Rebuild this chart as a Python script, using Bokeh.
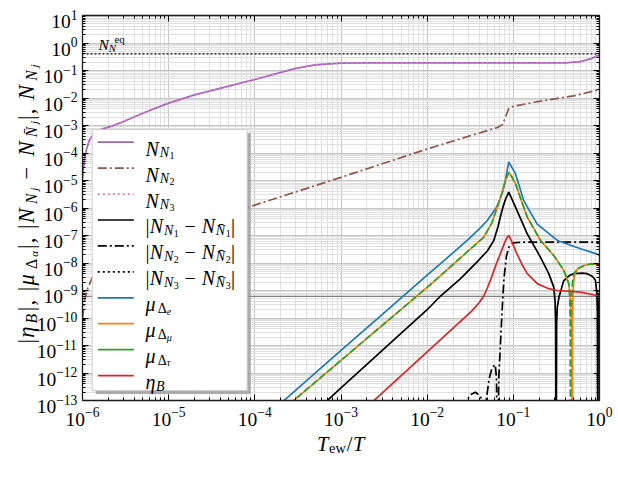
import math
from bokeh.plotting import figure
from bokeh.models import LogAxis, FixedTicker, Label, Range1d
from bokeh.embed import file_html
from bokeh.resources import INLINE

# ---------------- data ----------------
x_exponents = [-6, -5, -4, -3, -2, -1, 0]
y_exponents = list(range(-13, 2))

neq_level = 0.4          # N_N^eq dotted line
eta_obs = 6.1e-10        # observed baryon asymmetry (grey line)

nn1_x = [1e-6, 1.02e-6, 1.06e-6, 1.12e-6, 1.22e-6, 1.4e-6, 1.7e-6, 2.2e-6, 3e-6, 5e-6,
         1e-5, 2e-5, 5e-5, 1e-4, 2e-4, 3e-4, 5e-4, 1e-3, 2e-3, 0.4, 0.6, 0.8, 1.0]
nn1_y = [1.2e-5, 2.5e-5, 6e-5, 1.5e-4, 3.2e-4, 5.5e-4, 7.5e-4, 9.5e-4, 1.4e-3, 2.8e-3,
         6.5e-3, 0.013, 0.027, 0.047, 0.085, 0.12, 0.16, 0.185, 0.19, 0.19, 0.21, 0.27, 0.37]

nn2_x = [1e-6, 1.05e-6, 1.15e-6, 1.3e-6, 1.6e-6, 2.2e-6, 3.5e-6, 6e-6, 1e-5, 2e-5, 4e-5,
         8.2e-5, 1e-3, 1e-2, 0.0655, 0.075, 0.081, 0.088, 0.1, 0.2, 0.5, 1.0]
nn2_y = [1e-10, 4e-10, 1.2e-9, 3e-9, 8e-9, 2e-8, 4.5e-8, 8e-8, 1.3e-7, 2.6e-7, 5.2e-7,
         1.05e-6, 1.3e-5, 1.4e-4, 8.5e-4, 1.1e-3, 2e-3, 4e-3, 5e-3, 7.5e-3, 1.2e-2, 2e-2]

nn3_x = list(nn1_x)
nn3_y = list(nn1_y)

d1_x = [6.3e-4, 1e-3, 1e-2, 1.43e-2, 2.44e-2, 3.8e-2, 5.01e-2, 5.93e-2, 6.61e-2, 7.1e-2,
        7.59e-2, 8.13e-2, 8.85e-2, 0.106, 0.145, 0.207, 0.258, 0.295, 0.305, 0.31, 0.314,
        0.318, 0.324, 0.339, 0.385, 0.447, 0.504, 0.631, 0.719, 0.832, 0.898, 0.933, 0.946,
        0.955, 0.964, 0.982, 1.0]
d1_y = [7.6e-14, 2.9e-13, 2.0e-10, 6.3e-10, 2.7e-9, 1.1e-8, 2.8e-8, 6.6e-8, 2.0e-7, 5.0e-7,
        1.1e-6, 2.1e-6, 3.8e-6, 1.07e-6, 1.15e-7, 1.6e-8, 4.1e-9, 1.3e-9, 4e-10, 6.3e-11, 1e-16,
        6.3e-11, 2.5e-10, 5.8e-10, 2.3e-9, 3.5e-9, 4.1e-9, 4.3e-9, 4.1e-9, 3.2e-9, 2.3e-9, 7.9e-10,
        1.6e-10, 1e-16, 1e-10, 4e-10, 6.3e-10]

d2_x = [2.51e-2, 3.16e-2, 3.63e-2, 4.17e-2, 4.47e-2, 4.57e-2, 4.68e-2, 5.25e-2, 5.69e-2,
        6.17e-2, 6.38e-2, 6.5e-2, 6.78e-2, 7.41e-2, 7.76e-2, 8.32e-2, 8.85e-2, 0.1, 0.126, 1.0]
d2_y = [5e-14, 1.6e-13, 2e-13, 1.4e-13, 5e-14, 1e-16, 5e-14, 6.3e-13, 1.6e-12,
        2e-12, 6.3e-13, 1e-16, 7e-13, 1.86e-10, 2.5e-9, 1.8e-8, 3.8e-8, 5.4e-8, 5.75e-8, 5.75e-8]

mue_x = [2.0e-4, 1e-3, 3.16e-3, 1e-2, 1.43e-2, 2.91e-2, 3.98e-2, 4.98e-2, 6.31e-2, 6.78e-2,
         7.41e-2, 8.11e-2, 8.51e-2, 8.85e-2, 0.106, 0.132, 0.189, 0.324, 0.603, 0.94, 1.0]
mue_y = [7.9e-14, 6.6e-12, 1.55e-10, 3.6e-9, 9.5e-9, 6.6e-8, 1.66e-7, 3.5e-7, 1.0e-6, 1.6e-6,
         3.5e-6, 1.1e-5, 2.5e-5, 4.7e-5, 1.74e-5, 1.86e-6, 2.6e-7, 6.6e-8, 3.3e-8, 2.1e-8, 1.86e-8]

mutau_x = [2.5e-4, 1e-3, 1e-2, 1.43e-2, 4.54e-2, 5.62e-2, 6.5e-2, 7.41e-2, 8.13e-2, 8.85e-2,
           9.55e-2, 0.106, 0.126, 0.145, 0.207, 0.295, 0.385, 0.441, 0.452, 0.457, 0.460,
           0.465, 0.472, 0.484, 0.504, 0.562, 0.661, 0.794, 0.891, 1.0]
mutau_y = [7.2e-14, 2.9e-12, 1.3e-9, 3.5e-9, 8.7e-8, 2.8e-7, 1.07e-6, 3.5e-6, 1e-5, 2.0e-5,
           1.4e-5, 7.6e-6, 1.6e-6, 4.7e-7, 6.6e-8, 1.86e-8, 5.4e-9, 1.74e-9, 5e-10, 6.3e-11, 1e-16,
           6.3e-11, 6.3e-10, 1.8e-9, 4.1e-9, 6.3e-9, 8.1e-9, 9.3e-9, 9.1e-9, 8.1e-9]

mumu_x = [2.5e-4, 1e-3, 1e-2, 1.43e-2, 4.54e-2, 5.62e-2, 6.5e-2, 7.41e-2, 8.13e-2, 8.85e-2,
          9.55e-2, 0.106, 0.126, 0.145, 0.207, 0.295, 0.385, 0.441, 0.457, 0.47, 0.479, 0.481,
          0.485, 0.493, 0.504, 0.525, 0.562, 0.661, 0.794, 0.891, 1.0]
mumu_y = [7.2e-14, 2.9e-12, 1.3e-9, 3.5e-9, 8.7e-8, 2.8e-7, 1.07e-6, 3.5e-6, 1e-5, 2.0e-5,
          1.4e-5, 7.6e-6, 1.6e-6, 4.7e-7, 6.6e-8, 1.86e-8, 5.4e-9, 1.74e-9, 6.3e-10, 1e-10, 1e-11, 1e-16,
          6.3e-11, 7.9e-10, 2.5e-9, 4.5e-9, 6.3e-9, 8.1e-9, 9.3e-9, 9.1e-9, 8.1e-9]

etab_x = [2.24e-3, 1e-2, 3.33e-2, 3.98e-2, 4.54e-2, 5.01e-2, 5.62e-2, 6.31e-2, 7.08e-2, 7.94e-2,
          8.51e-2, 8.85e-2, 9.55e-2, 0.106, 0.126, 0.145, 0.191, 0.251, 0.324, 0.603, 0.933, 1.0]
etab_y = [8.1e-14, 5.9e-12, 1.86e-10, 3.5e-10, 6.3e-10, 1.26e-9, 3.2e-9, 8.9e-9, 2.2e-8, 5.6e-8,
          8.7e-8, 1e-7, 6.3e-8, 2.8e-8, 8.9e-9, 4.1e-9, 1.74e-9, 1.2e-9, 1e-9, 8.7e-10, 6.6e-10, 6.3e-10]

# ---------------- styles ----------------
PURPLE, BROWN, PINK = "#9467bd", "#8c564b", "#e377c2"
BLUE, ORANGE, GREEN, RED = "#1f77b4", "#ff7f0e", "#2ca02c", "#d62728"
LW = 1.7
DASHDOT = "9 3 2 3"
DOTTED = "2 3"
FONT = "Liberation Serif"
S = 19.5

# plot-area placement in the 618x480 canvas (pixels)
W_CANVAS, H_CANVAS = 618, 480
FX0, FX1, FY0, FY1 = 82, 599, 15, 400
XMIN, XMAX, YMIN, YMAX = 1e-6, 1.0, 1e-13, 1e1


def X(px):
    return 10 ** (math.log10(XMIN) + (math.log10(XMAX) - math.log10(XMIN)) * (px - FX0) / (FX1 - FX0))


def Y(py):
    return 10 ** (math.log10(YMAX) - (math.log10(YMAX) - math.log10(YMIN)) * (py - FY0) / (FY1 - FY0))


# the Bokeh frame spans the whole canvas; the data box sits inside it
p = figure(width=W_CANVAS, height=H_CANVAS, x_axis_type="log", y_axis_type="log",
           x_range=Range1d(X(0), X(W_CANVAS)), y_range=Range1d(Y(H_CANVAS), Y(0)),
           output_backend="svg", toolbar_location=None,
           min_border_left=0, min_border_right=0, min_border_top=0, min_border_bottom=0)
p.background_fill_color = "white"
p.border_fill_color = "white"
p.outline_line_color = None

xticks = [10.0 ** k for k in x_exponents]
xminor = [m * 10.0 ** k for k in x_exponents[:-1] for m in range(2, 10)]
yticks = [10.0 ** k for k in y_exponents]
yminor = [m * 10.0 ** k for k in y_exponents[:-1] for m in range(2, 10)]
xtk = FixedTicker(ticks=xticks, minor_ticks=xminor)
ytk = FixedTicker(ticks=yticks, minor_ticks=yminor)

p.xaxis.ticker = xtk
p.yaxis.ticker = ytk
p.xaxis.fixed_location = YMIN
p.yaxis.fixed_location = XMIN
p.add_layout(LogAxis(ticker=xtk, fixed_location=YMAX), "above")
p.add_layout(LogAxis(ticker=ytk, fixed_location=XMAX), "right")
for ax in p.axis:
    ax.major_label_text_font_size = "1px"
    ax.major_label_text_alpha = 0.0
    ax.major_label_standoff = 0
    ax.major_tick_in = 6
    ax.major_tick_out = 0
    ax.minor_tick_in = 3
    ax.minor_tick_out = 0
    ax.major_tick_line_color = "black"
    ax.minor_tick_line_color = "black"
    ax.axis_line_color = None
for ax in p.xaxis:
    ax.bounds = (XMIN, XMAX)
for ax in p.yaxis:
    ax.bounds = (YMIN, YMAX)

p.xgrid.ticker = xtk
p.ygrid.ticker = ytk
for g in (p.xgrid, p.ygrid):
    g.grid_line_color = "#b8b8b8"
    g.grid_line_alpha = 0.8
    g.minor_grid_line_color = "#e0e0e0"

# ---------------- curves ----------------
p.line([XMIN, XMAX], [eta_obs, eta_obs], line_color="#808080", line_width=1.1)
p.line([XMIN, XMAX], [neq_level, neq_level], line_color="black", line_width=1.3, line_dash="2 2")
p.line(nn1_x, nn1_y, line_color=PURPLE, line_width=LW)
p.line(nn2_x, nn2_y, line_color=BROWN, line_width=LW, line_dash=DASHDOT)
p.line(nn3_x, nn3_y, line_color=PINK, line_width=LW, line_dash=DOTTED)
p.line(d1_x, d1_y, line_color="black", line_width=LW)
p.line(d2_x, d2_y, line_color="black", line_width=LW, line_dash=DASHDOT)
p.line(mue_x, mue_y, line_color=BLUE, line_width=LW)
p.line(mumu_x, mumu_y, line_color=ORANGE, line_width=LW)
p.line(mutau_x, mutau_y, line_color=GREEN, line_width=LW, line_dash="7 3")
p.line(etab_x, etab_y, line_color=RED, line_width=LW)

# ---------------- white margins around the data box, then its frame ----------------
E0, E1, T0, T1 = X(-5), X(W_CANVAS + 5), Y(H_CANVAS + 5), Y(-5)
p.quad(left=[E0, X(FX1), E0, E0], right=[X(FX0), E1, E1, E1],
       bottom=[T0, T0, Y(FY0), T0], top=[T1, T1, T1, Y(FY1)],
       fill_color="white", line_alpha=0, level="annotation")
p.quad(left=[XMIN], right=[XMAX], bottom=[YMIN], top=[YMAX], fill_alpha=0,
       line_color="#1a1a1a", line_width=1.3, level="annotation")

# ---------------- legend frame ----------------
LEFT, RIGHT, TOP, BOTTOM = 91.7, 246.7, 129, 390
p.quad(left=[X(LEFT + 3.5)], right=[X(RIGHT + 3.5)], top=[Y(TOP + 3.5)], bottom=[Y(BOTTOM + 3.5)],
       fill_color="#9a9a9a", fill_alpha=0.8, line_alpha=0, level="annotation")
p.quad(left=[X(LEFT)], right=[X(RIGHT)], top=[Y(TOP)], bottom=[Y(BOTTOM)],
       fill_color="white", fill_alpha=1.0, line_color="#cccccc", line_width=1, level="annotation")

# ---------------- math-like text helper ----------------
WR = {'|': 0.2, ' ': 0.25, ',': 0.25, '\u2212': 0.564, '/': 0.278, 'e': 0.444, 'w': 0.722,
      'q': 0.5, '\u0394': 0.612, '\u0304': 0.0}
WI = {'N': 0.667, 'T': 0.556, 'B': 0.611, 'j': 0.278, 'e': 0.444, 'w': 0.667, 'q': 0.5,
      '\u03b7': 0.5, '\u03bc': 0.576, '\u03b1': 0.55, '\u03c4': 0.45, '\u0304': 0.0, ' ': 0.25}
SIZE = {0: 1.0, 1: 0.7, 2: 0.5, -1: 0.7}
SHIFT = {0: 0.0, 1: 0.2, 2: 0.34, -1: -0.36}


def piece_w(txt, lvl, it, size):
    tab = WI if it else WR
    return sum(tab.get(c, 0.5) for c in txt) * size * SIZE[lvl]


def runs_w(runs, size):
    return sum(piece_w(t, l, i, size) for t, l, i in runs)


def draw_runs(runs, x0, y0, size, angle=0.0, stretch=1.0):
    t = 0.0
    for txt, lvl, it in runs:
        s = size * SIZE[lvl]
        sh = size * SHIFT[lvl]
        lead = piece_w(txt[:len(txt) - len(txt.lstrip())], lvl, it, size) * stretch
        body = txt.strip()
        if body:
            if angle == 0.0:
                px, py = x0 + t + lead, y0 + sh
            else:
                px, py = x0 + sh, y0 - t - lead
            p.add_layout(Label(x=X(px), y=Y(py), text=body, angle=angle, text_font=FONT,
                               text_font_size=f"{s:.1f}px",
                               text_font_style="italic" if it else "normal",
                               text_color="black", text_align="left",
                               text_baseline="alphabetic", level="overlay"))
        t += piece_w(txt, lvl, it, size) * stretch
    return t


# tick labels
for k in x_exponents:
    runs = [("10", 0, False), (str(k).replace("-", "\u2212"), -1, False)]
    w = runs_w(runs, S)
    px = FX0 + (FX1 - FX0) * (k - x_exponents[0]) / (x_exponents[-1] - x_exponents[0])
    draw_runs(runs, px - w / 2, 418.5, S)
for k in y_exponents:
    runs = [("10", 0, False), (str(k).replace("-", "\u2212"), -1, False)]
    w = runs_w(runs, S)
    py = FY1 - (FY1 - FY0) * (k - y_exponents[0]) / (y_exponents[-1] - y_exponents[0])
    draw_runs(runs, 77 - w, py + 6.3, S)

# x label
SX = 20.5
xl = [("T", 0, True), ("ew", 1, False), ("/", 0, False), ("T", 0, True)]
draw_runs(xl, (FX0 + FX1) / 2 - runs_w(xl, SX) * 1.06 / 2, 443, SX, stretch=1.06)

# y label (rotated)
SY = 22.5
yl = [("|", 0, False), ("\u03b7", 0, True), ("B", 1, True), ("|", 0, False), (", ", 0, False),
      ("|", 0, False), ("\u03bc", 0, True), ("\u0394", 1, False), ("\u03b1", 2, True), ("|", 0, False), (", ", 0, False),
      ("|", 0, False), ("N", 0, True), ("N", 1, True), ("j", 2, True), (" \u2212 ", 0, False),
      ("N", 0, True), ("N\u0304", 1, True), ("j", 2, True), ("|", 0, False), (", ", 0, False),
      ("N", 0, True), ("N", 1, True), ("j", 2, True)]
YL_LEN = 280.0
st = YL_LEN / runs_w(yl, SY)
draw_runs(yl, 26.0, 203 + YL_LEN / 2, SY, angle=math.pi / 2, stretch=st)

# N_N^eq label
draw_runs([("N", 0, True), ("N", 1, True)], 98, 44, 15.5)
draw_runs([("eq", -1, False)], 114, 44, 15.5)


# ---------------- legend entries ----------------
def nn(k):
    return [("N", 0, True), ("N", 1, True), (k, 2, False)]


def diff(k):
    return [("|", 0, False), ("N", 0, True), ("N", 1, True), (k, 2, False), (" \u2212 ", 0, False),
            ("N", 0, True), ("N\u0304", 1, True), (k, 2, False), ("|", 0, False)]


def mu(sub, it):
    return [("\u03bc", 0, True), ("\u0394", 1, False), (sub, 2, it)]


legend_entries = [
    (nn("1"), PURPLE, "solid"),
    (nn("2"), BROWN, DASHDOT),
    (nn("3"), PINK, DOTTED),
    (diff("1"), "black", "solid"),
    (diff("2"), "black", DASHDOT),
    (diff("3"), "black", DOTTED),
    (mu("e", True), BLUE, "solid"),
    (mu("\u03bc", True), ORANGE, "solid"),
    (mu("\u03c4", True), GREEN, "solid"),
    ([("\u03b7", 0, True), ("B", 1, True)], RED, "solid"),
]
SL = 20.0
ROW0, DROW = 141.7, 25.93
for i, (runs, col, dash) in enumerate(legend_entries):
    yc = ROW0 + DROW * i
    p.segment(x0=[X(97.3)], y0=[Y(yc)], x1=[X(133.3)], y1=[Y(yc)], line_color=col,
              line_width=LW, line_dash=dash, level="overlay")
    draw_runs(runs, 145, yc + 6.5, SL, stretch=1.06)

open("out.html", "w").write(file_html(p, INLINE))
